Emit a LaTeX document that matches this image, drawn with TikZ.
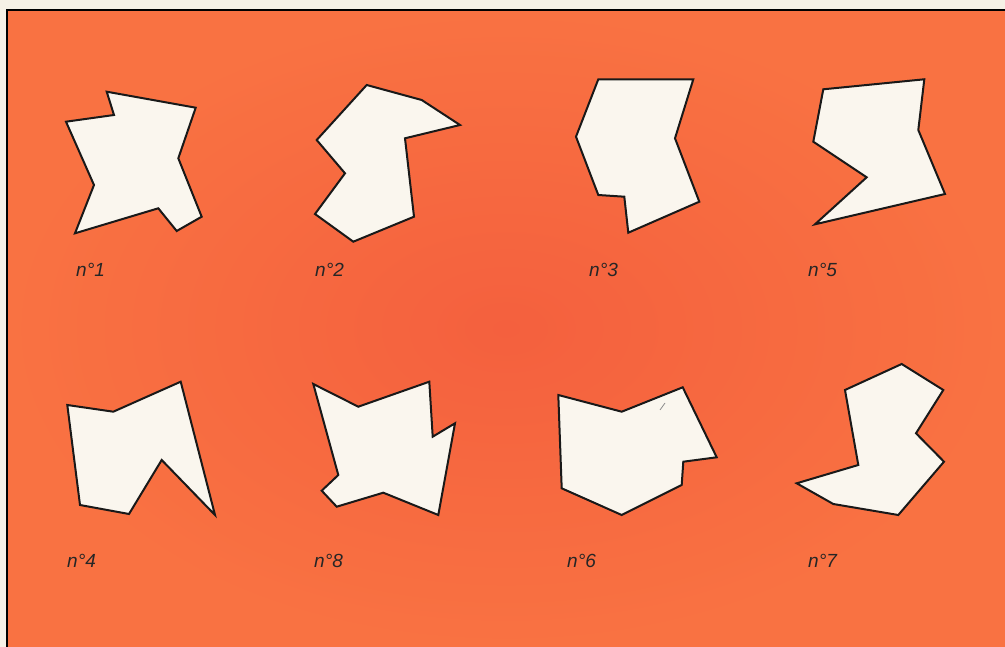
\documentclass[tikz,border=0pt]{standalone}
\usepackage{fontspec}
\setmainfont{Liberation Sans}

\definecolor{plate}{RGB}{249,114,66}
\definecolor{plateinner}{RGB}{244,96,62}
\definecolor{paper}{RGB}{250,246,238}
\definecolor{margin}{RGB}{246,241,230}

\begin{document}
\begin{tikzpicture}[x=1pt, y=-1pt, every node/.style={font=\fontsize{19}{21}\selectfont\itshape, inner sep=0pt},
	piece/.style={fill=paper, draw=black!90, line width=2pt, line join=miter},
	tag/.style={anchor=base west, text=black!85}]
	\useasboundingbox (0,0) rectangle (1005,647);
	\fill[margin] (0,0) rectangle (1005,647);
	\shade[inner color=plateinner, outer color=plate] (7,10) rectangle (1005,647);
	\draw[line width=1.5pt] (7,647) -- (7,10) -- (1005,10);
	% top row
	\draw[piece] (106.7,91.7) -- (195.7,107.7) -- (178.3,158.3) -- (201.7,216.7) -- (176.7,231) -- (158.3,208.3) -- (75,233.3) -- (94,185) -- (66,121.7) -- (114,115) -- cycle;
	\draw[piece] (366.7,85) -- (421.7,100) -- (460,125) -- (405,138.3) -- (414,216.7) -- (353.3,241.7) -- (315,214) -- (345,173.3) -- (316.7,140) -- cycle;
	\draw[piece] (598.3,79.3) -- (693.3,79.3) -- (675,138.3) -- (699.3,201.7) -- (628.3,232.7) -- (624.3,196.7) -- (598.3,195) -- (576,136.7) -- cycle;
	\draw[piece] (823.3,89.3) -- (924.3,79.3) -- (918.3,130) -- (945,194) -- (815,224.3) -- (866.7,177.3) -- (813.3,141.7) -- cycle;
	% bottom row
	\draw[piece] (67.3,405) -- (113.3,411.7) -- (180.7,381.7) -- (215,515) -- (161.7,460) -- (129,514) -- (80,505) -- cycle;
	\draw[piece] (313.3,384) -- (358.3,406.7) -- (429.3,381.7) -- (432.7,436.7) -- (455,423.3) -- (438.3,515) -- (383.3,492.7) -- (336.7,506.7) -- (321.7,490.7) -- (338.3,475) -- cycle;
	\draw[piece] (558.3,395) -- (621.7,411.7) -- (682.7,387.3) -- (716.7,457.3) -- (683.3,461.7) -- (681.7,485) -- (621.7,515) -- (561.7,488.3) -- cycle;
	\draw[black!45, line width=0.8pt] (665,403) -- (660,410);
	\draw[piece] (901.7,364) -- (943.3,390) -- (916,433.3) -- (944,461.7) -- (898.3,515) -- (833.3,504) -- (796.7,483.3) -- (858.3,465) -- (845,390) -- cycle;
	% labels
	\node[tag] (n1) at (76,277) {n°1};
	\node[tag] (n2) at (315,277) {n°2};
	\node[tag] (n3) at (589,277) {n°3};
	\node[tag] (n5) at (808,277) {n°5};
	\node[tag] (n4) at (67,567) {n°4};
	\node[tag] (n8) at (314,567) {n°8};
	\node[tag] (n6) at (567,567) {n°6};
	\node[tag] (n7) at (808,567) {n°7};
\end{tikzpicture}
\end{document}
